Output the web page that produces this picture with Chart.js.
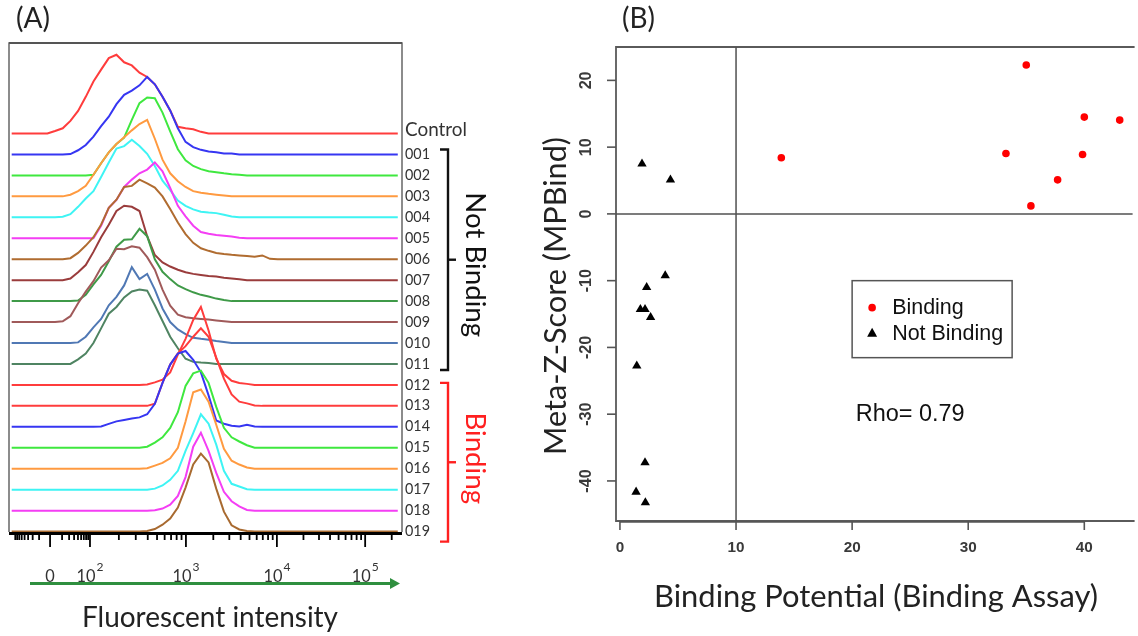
<!DOCTYPE html>
<html>
<head>
<meta charset="utf-8">
<script src="https://cdn.jsdelivr.net/npm/chart.js@4.4.0/dist/chart.umd.min.js"></script>
<style>
html, body { margin: 0; padding: 0; background: #fff; overflow: hidden; }
#wrap { position: relative; width: 1138px; height: 636px; }
canvas { position: absolute; top: 0; }
#hist-canvas { left: 0; }
#scatter-canvas { left: 530px; }
</style>
</head>
<body>
<div id="wrap">
  <canvas id="hist-canvas" width="530" height="636" style="width:530px;height:636px"></canvas>
  <canvas id="scatter-canvas" width="608" height="636" style="width:608px;height:636px"></canvas>
</div>
<script>
// ---- Panel A: stacked fluorescence histograms ----
// x = display channel (0..1024, biexponential), y = histogram height in row units
const channels = [7, 80, 100, 120, 140, 160, 180, 200, 220, 240, 260, 280, 300, 320, 340, 360,
  380, 400, 420, 440, 460, 480, 500, 520, 540, 560, 580, 600, 620, 640, 660, 680, 700, 1013];

const sampleLabels = ['Control', '001', '002', '003', '004', '005', '006', '007', '008', '009',
  '010', '011', '012', '013', '014', '015', '016', '017', '018', '019'];

const lineColors = ['#ff3c3c', '#3636f2', '#3fe83f', '#ff9a40', '#3ef4f4', '#f43ef4', '#b06c30',
  '#9a3c3c', '#3f9a48', '#a05a5a', '#5078b4', '#4f8462', '#ff3c3c', '#ff3c3c', '#3636f2',
  '#3fe83f', '#ff9a40', '#3ef4f4', '#f43ef4', '#a86a30'];

const hControl = [0, 0, 0, 0.12, 0.25, 0.6, 1.08, 1.75, 2.48, 3.05, 3.6, 3.76, 3.4, 3.25, 2.9, 2.7, 2.35, 1.75, 1.1, 0.32, 0.25, 0.2, 0.08, 0, 0, 0, 0, 0, 0, 0, 0, 0, 0, 0];
const h001 = [0, 0, 0, 0, 0, 0.02, 0.2, 0.45, 0.85, 1.35, 1.8, 2.4, 2.85, 3.05, 3.3, 3.7, 3.35, 2.75, 2.1, 1.25, 0.6, 0.35, 0.22, 0.14, 0.1, 0.05, 0.05, 0, 0, 0, 0, 0, 0, 0];
const h002 = [0, 0, 0, 0, 0, 0, 0, 0, 0.03, 0.58, 1.1, 1.5, 1.8, 2.65, 3.45, 3.72, 3.68, 3.0, 2.1, 1.25, 0.72, 0.45, 0.3, 0.2, 0.15, 0.1, 0.06, 0.03, 0, 0, 0, 0, 0, 0];
const h003 = [0, 0, 0, 0, 0, 0.08, 0.25, 0.5, 1.03, 1.58, 2.1, 2.5, 2.82, 3.15, 3.45, 3.65, 2.75, 1.75, 1.1, 0.72, 0.45, 0.25, 0.17, 0.12, 0.08, 0.04, 0, 0, 0, 0, 0, 0, 0, 0];
const h004 = [0, 0, 0, 0, 0.03, 0.15, 0.5, 0.9, 1.25, 1.92, 2.62, 3.28, 3.4, 3.7, 3.4, 3.03, 2.45, 1.75, 1.3, 0.8, 0.55, 0.38, 0.27, 0.23, 0.2, 0.12, 0.04, 0, 0, 0, 0, 0, 0, 0];
const h005 = [0, 0, 0, 0, 0, 0, 0, 0, 0, 0.6, 1.45, 1.83, 2.45, 2.8, 3.1, 3.28, 3.62, 3.2, 2.4, 1.55, 1.05, 0.6, 0.3, 0.22, 0.16, 0.12, 0.08, 0.03, 0, 0, 0, 0, 0, 0];
const h006 = [0, 0, 0, 0, 0, 0.05, 0.3, 0.65, 1.05, 1.65, 2.45, 2.84, 3.45, 3.5, 3.8, 3.62, 3.42, 3.0, 2.4, 1.75, 1.2, 0.78, 0.52, 0.4, 0.3, 0.25, 0.21, 0.18, 0.15, 0.12, 0.18, 0.02, 0, 0];
const h007 = [0, 0, 0, 0, 0, 0.08, 0.38, 0.72, 1.35, 2.05, 2.65, 3.3, 3.55, 3.5, 3.3, 2.1, 1.2, 0.85, 0.65, 0.5, 0.38, 0.3, 0.25, 0.2, 0.17, 0.12, 0.08, 0.04, 0, 0, 0, 0, 0, 0];
const h008 = [0, 0, 0, 0, 0, 0, 0.03, 0.3, 0.8, 1.25, 1.9, 2.6, 2.93, 2.95, 3.45, 3.1, 2.0, 1.4, 1.05, 0.75, 0.57, 0.42, 0.3, 0.22, 0.12, 0.05, 0, 0, 0, 0, 0, 0, 0, 0];
const h009 = [0, 0, 0, 0, 0.04, 0.28, 0.9, 1.45, 1.95, 2.6, 2.95, 3.5, 3.48, 3.62, 3.55, 3.1, 2.5, 1.55, 0.78, 0.35, 0.23, 0.18, 0.15, 0.12, 0.08, 0.04, 0, 0, 0, 0, 0, 0, 0, 0];
const h010 = [0, 0, 0, 0, 0, 0, 0.03, 0.3, 0.75, 1.15, 1.8, 2.2, 2.75, 3.62, 3.05, 3.3, 2.55, 1.65, 1.0, 0.65, 0.42, 0.25, 0.2, 0.16, 0.1, 0.05, 0, 0, 0, 0, 0, 0, 0, 0];
const h011 = [0, 0, 0, 0, 0, 0, 0.22, 0.5, 1.0, 1.7, 2.4, 2.72, 3.18, 3.46, 3.55, 3.5, 2.8, 2.05, 1.3, 0.75, 0.25, 0.1, 0.07, 0.05, 0, 0, 0, 0, 0, 0, 0, 0, 0, 0];
const h012 = [0, 0, 0, 0, 0, 0, 0, 0, 0, 0, 0, 0, 0, 0, 0, 0.02, 0.12, 0.25, 0.6, 1.45, 2.2, 3.1, 3.72, 2.6, 1.25, 0.52, 0.2, 0.09, 0.05, 0, 0, 0, 0, 0];
const h013 = [0, 0, 0, 0, 0, 0, 0, 0, 0, 0, 0, 0, 0, 0, 0, 0, 0.1, 1.1, 1.97, 2.5, 2.85, 3.3, 3.7, 3.3, 2.3, 1.3, 0.55, 0.2, 0.12, 0.02, 0, 0, 0, 0];
const h014 = [0, 0, 0, 0, 0, 0, 0, 0, 0, 0.02, 0.14, 0.26, 0.33, 0.4, 0.45, 0.6, 1.1, 2.1, 2.97, 3.5, 3.62, 3.2, 2.6, 1.5, 0.3, 0.15, 0.05, 0.02, 0.1, 0.02, 0, 0, 0, 0];
const h015 = [0, 0, 0, 0, 0, 0, 0, 0, 0, 0, 0, 0, 0, 0, 0, 0.05, 0.25, 0.5, 0.95, 1.7, 2.95, 3.55, 3.68, 3.1, 1.95, 0.95, 0.5, 0.3, 0.12, 0, 0, 0, 0, 0];
const h016 = [0, 0, 0, 0, 0, 0, 0, 0, 0, 0, 0, 0, 0, 0, 0, 0.02, 0.15, 0.28, 0.5, 1.0, 2.25, 3.65, 3.78, 3.2, 2.1, 0.95, 0.38, 0.2, 0.06, 0, 0, 0, 0, 0];
const h017 = [0, 0, 0, 0, 0, 0, 0, 0, 0, 0, 0, 0, 0, 0, 0, 0, 0.05, 0.2, 0.47, 0.9, 1.85, 2.7, 3.6, 3.15, 2.15, 0.9, 0.28, 0.15, 0.02, 0, 0, 0, 0, 0];
const h018 = [0, 0, 0, 0, 0, 0, 0, 0, 0, 0, 0, 0, 0, 0, 0, 0, 0.02, 0.1, 0.28, 0.7, 1.6, 3.05, 3.72, 2.85, 1.8, 0.9, 0.45, 0.2, 0.03, 0, 0, 0, 0, 0];
const h019 = [0, 0, 0, 0, 0, 0, 0, 0, 0, 0, 0, 0, 0, 0, 0, 0.03, 0.12, 0.33, 0.62, 1.15, 2.1, 3.2, 3.72, 3.3, 2.05, 0.95, 0.3, 0.1, 0.03, 0, 0, 0, 0, 0];

const histHeights = [hControl, h001, h002, h003, h004, h005, h006, h007, h008, h009,
  h010, h011, h012, h013, h014, h015, h016, h017, h018, h019];

// x-axis of panel A: channel positions of the labelled ticks
const tickChannels = [107, 211, 461, 698, 928];
const tickBases = ['0', '10', '10', '10', '10'];
const tickPowers = ['', '2', '3', '4', '5'];

// ---- Panel B: scatter ----
const bindingX = [13.9, 35.0, 33.25, 40.0, 43.05, 39.85, 37.7, 35.4];
const bindingY = [8.4, 22.3, 9.05, 14.5, 14.05, 8.9, 5.1, 1.2];
const notBindingX = [1.9, 4.35, 3.9, 2.3, 1.76, 2.16, 2.64, 1.45, 2.16, 1.39, 2.19];
const notBindingY = [7.5, 5.1, -9.25, -11.0, -14.3, -14.3, -15.5, -22.75, -37.25, -41.65, -43.25];
const xTicksB = [0, 10, 20, 30, 40];
const yTicksB = [-40, -30, -20, -10, 0, 10, 20];

function fitFont(ctx, text, family, target, weight) {
    const w0 = weight ? weight + ' ' : '';
    ctx.font = w0 + '100px ' + family;
    const w = ctx.measureText(text).width;
    return w0 + (100 * target / w).toFixed(2) + 'px ' + family;
}

function line(ctx, x1, y1, x2, y2) {
    ctx.beginPath();
    ctx.moveTo(x1, y1);
    ctx.lineTo(x2, y2);
    ctx.stroke();
}

const histDecor = {
    id: 'histDecor',
    beforeDatasetsDraw(chart) {
        const { ctx, chartArea: a } = chart;
        const xs = chart.scales.x;
        ctx.save();
        // frame
        ctx.strokeStyle = '#707070';
        ctx.lineWidth = 1.6;
        ctx.beginPath();
        ctx.moveTo(a.left, a.bottom);
        ctx.lineTo(a.left, a.top);
        ctx.lineTo(a.right, a.top);
        ctx.lineTo(a.right, a.bottom);
        ctx.stroke();
        ctx.strokeStyle = '#555';
        ctx.lineWidth = 2.2;
        line(ctx, a.left, a.top, a.right, a.top);

        // thick log axis
        ctx.strokeStyle = '#000';
        ctx.lineWidth = 3;
        line(ctx, a.left, a.bottom + 1.5, a.right, a.bottom + 1.5);
        ctx.lineWidth = 1.8;
        const minor = [];
        const decades = [211, 461, 698, 928, 1158];
        for (let k = 0; k < 4; k++) {
            for (let m = 2; m <= 9; m++) {
                const c = decades[k] + Math.log10(m) * (decades[k + 1] - decades[k]);
                if (c < 1020) minor.push(c);
            }
        }
        for (let m = 2; m <= 9; m++) {
            minor.push(107 + Math.log10(m) * (211 - 107));
            minor.push(107 - Math.log10(m) * 95);
        }
        minor.forEach(c => {
            const px = xs.getPixelForValue(c);
            line(ctx, px, a.bottom + 1, px, a.bottom + 8);
        });
        tickChannels.forEach(c => {
            const px = xs.getPixelForValue(c);
            line(ctx, px, a.bottom + 1, px, a.bottom + 15);
        });
        ctx.restore();
    },
    afterDatasetsDraw(chart) {
        const { ctx, chartArea: a } = chart;
        const xs = chart.scales.x;
        const ys = chart.scales.y;
        ctx.save();

        // panel tag
        ctx.fillStyle = '#222';
        ctx.textBaseline = 'alphabetic';
        ctx.textAlign = 'left';
        ctx.font = fitFont(ctx, '(A)', 'Lato', 34);
        ctx.fillText('(A)', 16, 28);

        // sample labels
        ctx.fillStyle = '#333';
        ctx.textBaseline = 'middle';
        const ctrlFont = fitFont(ctx, 'Control', 'Lato', 62);
        const numFont = fitFont(ctx, '001', 'Lato', 25);
        sampleLabels.forEach((s, i) => {
            const py = ys.getPixelForValue(19 - i) + (i === 0 ? -4 : 0);
            ctx.font = i === 0 ? ctrlFont : numFont;
            ctx.fillText(s, a.right + 3, py);
        });

        // brackets
        function bracket(top, bottom, color) {
            ctx.strokeStyle = color;
            ctx.lineWidth = 2.4;
            ctx.beginPath();
            ctx.moveTo(440, top);
            ctx.lineTo(448, top);
            ctx.lineTo(448, bottom);
            ctx.lineTo(440, bottom);
            ctx.stroke();
            line(ctx, 448, (top + bottom) / 2, 456, (top + bottom) / 2);
        }
        const nbTop = ys.getPixelForValue(18) - 5;
        const nbBottom = ys.getPixelForValue(8) + 6;
        const bTop = ys.getPixelForValue(7) - 2;
        const bBottom = ys.getPixelForValue(0) + 10;
        bracket(nbTop, nbBottom, '#111');
        bracket(bTop, bBottom, '#ff2020');

        const groupFont = fitFont(ctx, 'Not Binding', 'Lato', 145);
        ctx.font = groupFont;
        ctx.textAlign = 'center';
        ctx.textBaseline = 'middle';
        ctx.save();
        ctx.translate(475, (nbTop + nbBottom) / 2 + 5);
        ctx.rotate(Math.PI / 2);
        ctx.fillStyle = '#111';
        ctx.fillText('Not Binding', 0, 0);
        ctx.restore();
        ctx.save();
        ctx.translate(475, (bTop + bBottom) / 2 - 4);
        ctx.rotate(Math.PI / 2);
        ctx.fillStyle = '#ff2020';
        ctx.fillText('Binding', 0, 0);
        ctx.restore();

        // tick labels with superscripts
        const baseFont = fitFont(ctx, '10', 'Lato', 19);
        const supFont = fitFont(ctx, '2', 'Lato', 7);
        ctx.fillStyle = '#333';
        ctx.textBaseline = 'alphabetic';
        ctx.textAlign = 'left';
        tickChannels.forEach((c, i) => {
            const cx = xs.getPixelForValue(c);
            ctx.font = baseFont;
            const w1 = ctx.measureText(tickBases[i]).width;
            ctx.font = supFont;
            const w2 = tickPowers[i] ? ctx.measureText(tickPowers[i]).width + 1 : 0;
            const left = cx - (w1 + w2) / 2;
            ctx.font = baseFont;
            ctx.fillText(tickBases[i], left, 582);
            if (tickPowers[i]) {
                ctx.font = supFont;
                ctx.fillText(tickPowers[i], left + w1 + 1, 571);
            }
        });

        // green arrow
        ctx.strokeStyle = '#2f8f3f';
        ctx.fillStyle = '#2f8f3f';
        ctx.lineWidth = 3;
        line(ctx, 30, 583.5, 392, 583.5);
        ctx.beginPath();
        ctx.moveTo(390, 578);
        ctx.lineTo(400, 583.5);
        ctx.lineTo(390, 589);
        ctx.closePath();
        ctx.fill();

        ctx.fillStyle = '#222';
        ctx.textAlign = 'center';
        ctx.font = fitFont(ctx, 'Fluorescent intensity', 'Lato', 256);
        ctx.fillText('Fluorescent intensity', 210, 627);
        ctx.restore();
    }
};

new Chart(document.getElementById('hist-canvas'), {
    type: 'line',
    data: {
        datasets: histHeights.map((h, i) => ({
            label: sampleLabels[i],
            data: channels.map((c, j) => ({ x: c, y: (19 - i) + h[j] })),
            borderColor: lineColors[i],
            borderWidth: 2,
            pointRadius: 0,
            fill: false,
            tension: 0,
            order: 20 - i
        }))
    },
    options: {
        responsive: false,
        animation: false,
        events: [],
        layout: { padding: { left: 9, top: 43, right: 128, bottom: 104 } },
        plugins: { legend: { display: false }, tooltip: { enabled: false } },
        scales: {
            x: { type: 'linear', min: 0, max: 1024, display: false },
            y: { type: 'linear', min: -0.02, max: 23.32, display: false }
        }
    },
    plugins: [histDecor]
});

const scatterDecor = {
    id: 'scatterDecor',
    beforeDatasetsDraw(chart) {
        const { ctx, chartArea: a } = chart;
        const xs = chart.scales.x;
        const ys = chart.scales.y;
        ctx.save();
        ctx.strokeStyle = '#5a5a5a';
        ctx.lineWidth = 1.8;
        ctx.beginPath();
        ctx.moveTo(a.right + 2, a.top);
        ctx.lineTo(a.left, a.top);
        ctx.lineTo(a.left, a.bottom);
        ctx.lineTo(a.right + 2, a.bottom);
        ctx.stroke();
        ctx.strokeStyle = '#505050';
        ctx.lineWidth = 1.5;
        const x10 = xs.getPixelForValue(10);
        line(ctx, x10, a.top, x10, a.bottom);
        const y0 = ys.getPixelForValue(0);
        line(ctx, a.left, y0, a.right, y0);
        ctx.restore();
    },
    afterDatasetsDraw(chart) {
        const { ctx, chartArea: a } = chart;
        const xs = chart.scales.x;
        const ys = chart.scales.y;
        ctx.save();

        // ticks
        ctx.strokeStyle = '#555';
        ctx.lineWidth = 1.6;
        xTicksB.forEach(v => {
            const px = xs.getPixelForValue(v);
            line(ctx, px, a.bottom, px, a.bottom + 9);
        });
        line(ctx, xs.getPixelForValue(0), a.bottom + 1, xs.getPixelForValue(40), a.bottom + 1);
        yTicksB.forEach(v => {
            const py = ys.getPixelForValue(v);
            line(ctx, a.left - 9, py, a.left, py);
        });

        ctx.font = fitFont(ctx, '20', "'Liberation Sans'", 17, 'bold');
        ctx.fillStyle = '#3a3a3a';
        ctx.textAlign = 'center';
        ctx.textBaseline = 'middle';
        xTicksB.forEach(v => {
            ctx.fillText(String(v), xs.getPixelForValue(v), 548);
        });
        ctx.font = fitFont(ctx, '20', "'Liberation Sans'", 18, 'bold');
        yTicksB.forEach(v => {
            ctx.save();
            ctx.translate(a.left - 29, ys.getPixelForValue(v));
            ctx.rotate(-Math.PI / 2);
            ctx.fillText(String(v), 0, 0);
            ctx.restore();
        });

        // legend, placed at data (20, -10)
        const lx = xs.getPixelForValue(20);
        const ly = ys.getPixelForValue(-10);
        ctx.strokeStyle = '#555';
        ctx.lineWidth = 1.5;
        ctx.strokeRect(lx, ly, 160, 77);
        ctx.fillStyle = '#ff0000';
        ctx.beginPath();
        ctx.arc(lx + 20, ly + 27, 3.8, 0, Math.PI * 2);
        ctx.fill();
        ctx.fillStyle = '#000';
        ctx.beginPath();
        ctx.moveTo(lx + 20, ly + 47);
        ctx.lineTo(lx + 25, ly + 56);
        ctx.lineTo(lx + 15, ly + 56);
        ctx.closePath();
        ctx.fill();
        ctx.fillStyle = '#111';
        ctx.textAlign = 'left';
        ctx.font = fitFont(ctx, 'Not Binding', "'Liberation Sans'", 111);
        ctx.fillText('Binding', lx + 40, ly + 27);
        ctx.fillText('Not Binding', lx + 40, ly + 53);

        ctx.textAlign = 'center';
        ctx.font = fitFont(ctx, 'Rho= 0.79', "'Liberation Sans'", 109);
        ctx.fillText('Rho= 0.79', xs.getPixelForValue(25), ys.getPixelForValue(-30));

        // titles
        ctx.fillStyle = '#222';
        ctx.textBaseline = 'alphabetic';
        ctx.font = fitFont(ctx, 'Binding Potential (Binding Assay)', 'Lato', 444);
        ctx.fillText('Binding Potential (Binding Assay)', 346, 607);
        ctx.save();
        ctx.translate(26, 296);
        ctx.rotate(-Math.PI / 2);
        ctx.textBaseline = 'middle';
        ctx.font = fitFont(ctx, 'Meta-Z-Score (MPBind)', 'Lato', 318);
        ctx.fillText('Meta-Z-Score (MPBind)', 0, 0);
        ctx.restore();

        ctx.textAlign = 'left';
        ctx.font = fitFont(ctx, '(B)', 'Lato', 33);
        ctx.fillText('(B)', 92, 28);
        ctx.restore();
    }
};

new Chart(document.getElementById('scatter-canvas'), {
    type: 'scatter',
    data: {
        datasets: [{
            label: 'Binding',
            data: bindingX.map((x, i) => ({ x: x, y: bindingY[i] })),
            pointStyle: 'circle',
            pointRadius: 3.8,
            backgroundColor: '#ff0000',
            borderWidth: 0
        }, {
            label: 'Not Binding',
            data: notBindingX.map((x, i) => ({ x: x, y: notBindingY[i] })),
            pointStyle: 'triangle',
            pointRadius: 5.4,
            backgroundColor: '#000',
            borderColor: '#000',
            borderWidth: 0
        }]
    },
    options: {
        responsive: false,
        animation: false,
        events: [],
        layout: { padding: { left: 86, top: 47, right: 0, bottom: 115 } },
        plugins: { legend: { display: false }, tooltip: { enabled: false } },
        scales: {
            x: { type: 'linear', min: -0.34, max: 44.16, display: false },
            y: { type: 'linear', min: -46.0, max: 25.0, display: false }
        }
    },
    plugins: [scatterDecor]
});
</script>
</body>
</html>
